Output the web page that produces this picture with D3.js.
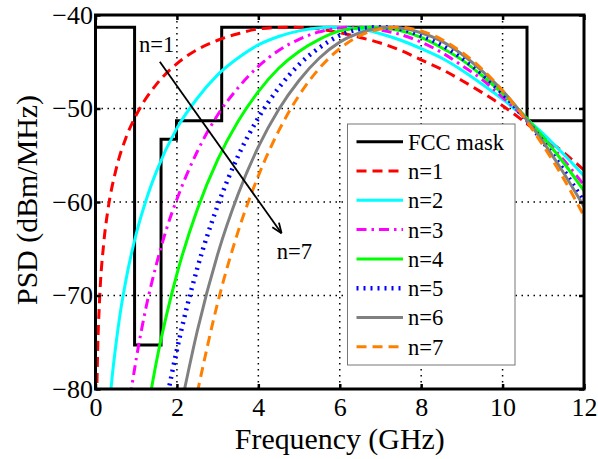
<!DOCTYPE html>
<html>
<head>
<meta charset="utf-8">
<script src="https://cdn.jsdelivr.net/npm/d3@7"></script>
<style>
  html, body { margin: 0; padding: 0; background: #fff; }
  svg { display: block; }
</style>
</head>
<body>
<svg id="chart" width="598" height="459"></svg>
<script>
// ---------------- data ----------------
const xTicks = [0, 2, 4, 6, 8, 10, 12];
const yTicks = [-80, -70, -60, -50, -40];
const xLabel = "Frequency (GHz)";
const yLabel = "PSD (dBm/MHz)";

// FCC indoor emission mask (step function)
const maskFreq = [0, 0.96, 0.96, 1.61, 1.61, 1.99, 1.99, 3.1, 3.1, 10.6, 10.6, 12];
const maskPsd  = [-41.3, -41.3, -75.3, -75.3, -53.3, -53.3, -51.3, -51.3, -41.3, -41.3, -51.3, -51.3];

const freqN1 = [0.02, 0.03, 0.05, 0.1, 0.2, 0.3, 0.5, 0.75, 1, 1.5, 2, 2.5, 3, 3.5, 4, 4.75, 5.5, 6, 6.5, 7, 7.5, 8, 8.5, 9, 9.5, 10, 10.5, 11, 11.5, 12];
const psdN1  = [-84.5, -81, -76.5, -70.5, -64.5, -61.0, -56.6, -53.1, -50.7, -47.4, -45.2, -43.7, -42.7, -42.0, -41.5, -41.3, -41.5, -41.9, -42.4, -43.0, -43.8, -44.8, -45.8, -47.0, -48.3, -49.7, -51.3, -53.0, -54.7, -56.6];

const freqN2 = [0.35, 0.4, 0.5, 0.6, 0.75, 1, 1.25, 1.5, 2, 2.5, 3, 3.5, 4, 4.5, 5, 5.8, 6.5, 7, 7.5, 8, 8.5, 9, 9.5, 10, 10.5, 11, 11.5, 12];
const psdN2  = [-81.4, -79.1, -75.3, -72.1, -68.3, -63.4, -59.7, -56.7, -52.1, -48.9, -46.4, -44.6, -43.2, -42.3, -41.7, -41.3, -41.5, -42.0, -42.7, -43.6, -44.6, -45.9, -47.4, -49.0, -50.8, -52.7, -54.9, -57.2];

const freqN3 = [0.85, 1, 1.25, 1.5, 1.75, 2, 2.5, 3, 3.5, 4, 4.5, 5, 5.5, 6.35, 7, 7.5, 8, 8.5, 9, 9.5, 10, 10.5, 11, 11.5, 12];
const psdN3  = [-80.9, -76.8, -71.1, -66.6, -62.8, -59.7, -54.6, -50.7, -47.8, -45.5, -43.8, -42.6, -41.8, -41.3, -41.6, -42.1, -42.9, -44.0, -45.4, -46.9, -48.8, -50.8, -53.1, -55.5, -58.2];

const freqN4 = [1.3, 1.5, 1.75, 2, 2.5, 3, 3.5, 4, 4.5, 5, 5.5, 6, 6.75, 7.5, 8, 8.5, 9, 9.5, 10, 10.5, 11, 11.5, 12];
const psdN4  = [-81.8, -77.0, -72.0, -67.7, -60.8, -55.5, -51.4, -48.2, -45.7, -43.9, -42.6, -41.7, -41.3, -41.7, -42.4, -43.5, -44.8, -46.5, -48.4, -50.6, -53.1, -55.8, -58.8];

const freqN5 = [1.75, 2, 2.5, 3, 3.5, 4, 4.5, 5, 5.5, 6, 6.5, 7, 7.5, 8, 8.5, 9, 9.5, 10, 10.5, 11, 11.5, 12];
const psdN5  = [-81.1, -75.8, -67.1, -60.4, -55.1, -51.0, -47.8, -45.3, -43.5, -42.2, -41.5, -41.3, -41.5, -42.2, -43.2, -44.6, -46.3, -48.4, -50.8, -53.6, -56.6, -60.0];

const freqN6 = [2.15, 2.5, 3, 3.5, 4, 4.5, 5, 5.5, 6, 6.5, 7.24, 8, 8.5, 9, 9.5, 10, 10.5, 11, 11.5, 12];
const psdN6  = [-80.8, -73.8, -65.6, -59.2, -54.1, -50.1, -47.0, -44.6, -42.9, -41.9, -41.3, -41.9, -42.8, -44.2, -46.0, -48.1, -50.7, -53.6, -56.9, -60.5];

const freqN7 = [2.5, 3, 3.5, 4, 4.5, 5, 5.5, 6, 6.5, 7, 7.4, 8, 8.5, 9, 9.5, 10, 10.5, 11, 11.5, 12];
const psdN7  = [-80.4, -70.8, -63.2, -57.2, -52.4, -48.6, -45.7, -43.6, -42.2, -41.5, -41.3, -41.7, -42.6, -44.0, -45.8, -48.1, -50.8, -54.0, -57.5, -61.5];

const seriesNames = ["FCC mask", "n=1", "n=2", "n=3", "n=4", "n=5", "n=6", "n=7"];

// annotation (data units)
const arrowFrom = [1.58, -45.0];
const arrowTo   = [4.57, -63.35];
const labelN1Pos = [1.07, -44.0];
const labelN7Pos = [4.45, -66.1];

// ---------------- styles ----------------
const styles = [
  { color: "#000000", width: 3,   dash: null },
  { color: "#ff0000", width: 3,   dash: "10,6" },
  { color: "#00ffff", width: 3,   dash: null },
  { color: "#ff00ff", width: 3,   dash: "10,5,2.5,5" },
  { color: "#00ff00", width: 3,   dash: null },
  { color: "#0000ff", width: 4.5, dash: "2,5" },
  { color: "#808080", width: 3,   dash: null },
  { color: "#ff8000", width: 3,   dash: "10,6" }
];

const seriesData = [
  [maskFreq, maskPsd],
  [freqN1, psdN1], [freqN2, psdN2], [freqN3, psdN3], [freqN4, psdN4],
  [freqN5, psdN5], [freqN6, psdN6], [freqN7, psdN7]
].map(([f, p]) => f.map((x, i) => ({ x, y: p[i] })));

const svg = d3.select("#chart");

// ---- pick an installed serif-like font (Times look) ----
function pickFont() {
  const candidates = ["Liberation Serif", "Tinos", "Times New Roman", "Times", "Nimbus Roman",
                      "Nimbus Roman No9 L", "FreeSerif", "Noto Serif", "DejaVu Serif", "Liberation Sans"];
  const probe = svg.append("text").attr("x", -1000).attr("y", -1000)
    .style("font-size", "40px").text("mmmmwwwiiilQ12");
  const widthWith = fam => { probe.style("font-family", fam); return probe.node().getComputedTextLength(); };
  const baseMono = widthWith("monospace");
  const baseSans = widthWith("sans-serif");
  let found = null;
  for (const c of candidates) {
    const w1 = widthWith(`"${c}", monospace`);
    const w2 = widthWith(`"${c}", sans-serif`);
    if (Math.abs(w1 - baseMono) > 0.5 || Math.abs(w2 - baseSans) > 0.5) { found = c; break; }
  }
  probe.remove();
  return found ? `"${found}", serif` : "serif";
}
const FONT = pickFont();

// fit a text element's font size so its width matches a target width
function fitWidth(sel, target, base) {
  sel.style("font-family", FONT).style("font-size", base + "px");
  const w = sel.node().getComputedTextLength();
  if (w > 0) sel.style("font-size", (base * target / w).toFixed(2) + "px");
  return sel;
}

// ---------------- chart ----------------
const L = 95.5, R = 584, T = 15, B = 389;
const x = d3.scaleLinear().domain([0, 12]).range([L, R]);
const y = d3.scaleLinear().domain([-80, -40]).range([B, T]);

svg.append("defs").append("clipPath").attr("id", "plotclip")
  .append("rect").attr("x", L).attr("y", T).attr("width", R - L).attr("height", B - T);

// grid
const grid = svg.append("g");
grid.selectAll("line.gx").data(xTicks.slice(1, -1)).join("line")
  .attr("x1", d => x(d)).attr("x2", d => x(d)).attr("y1", T).attr("y2", B)
  .attr("stroke", "#000").attr("stroke-width", 1.5).attr("stroke-dasharray", "1.5,4.5");
grid.selectAll("line.gy").data(yTicks.slice(1, -1)).join("line")
  .attr("y1", d => y(d)).attr("y2", d => y(d)).attr("x1", L).attr("x2", R)
  .attr("stroke", "#000").attr("stroke-width", 1.5).attr("stroke-dasharray", "1.5,4.5");

// lines
const plot = svg.append("g").attr("clip-path", "url(#plotclip)");
const lineSmooth = d3.line().x(d => x(d.x)).y(d => y(d.y)).curve(d3.curveMonotoneX);
const lineStep = d3.line().x(d => x(d.x)).y(d => y(d.y));
seriesData.forEach((data, i) => {
  const st = styles[i];
  plot.append("path")
    .attr("d", i === 0 ? lineStep(data) : lineSmooth(data))
    .attr("fill", "none")
    .attr("stroke", st.color)
    .attr("stroke-width", st.width)
    .attr("stroke-dasharray", st.dash)
    .attr("stroke-linejoin", "miter");
});

// legend
const lg = svg.append("g");
lg.append("rect").attr("x", 347.5).attr("y", 124).attr("width", 167.5).attr("height", 241)
  .attr("fill", "#fff").attr("stroke", "#777").attr("stroke-width", 1);
const fccText = lg.append("text").text("FCC mask");
fitWidth(fccText, 96, 23);
const legendFont = fccText.style("font-size");
seriesNames.forEach((name, i) => {
  const cy = 141.7 + i * 29.3;
  const st = styles[i];
  lg.append("line").attr("x1", 356.5).attr("x2", 403).attr("y1", cy).attr("y2", cy)
    .attr("stroke", st.color).attr("stroke-width", st.width).attr("stroke-dasharray", st.dash);
  const t = i === 0 ? fccText : lg.append("text").text(name);
  t.attr("x", 408).attr("y", cy).attr("dy", "0.35em")
    .style("font-family", FONT).style("font-size", legendFont);
});

// annotation arrow
const ax1 = x(arrowFrom[0]), ay1 = y(arrowFrom[1]);
const ax2 = x(arrowTo[0]), ay2 = y(arrowTo[1]);
svg.append("line").attr("x1", ax1).attr("y1", ay1).attr("x2", ax2).attr("y2", ay2)
  .attr("stroke", "#000").attr("stroke-width", 1.8);
const ang = Math.atan2(ay2 - ay1, ax2 - ax1);
[-0.38, 0.38].forEach(da => {
  const a = ang + Math.PI + da;
  svg.append("line").attr("x1", ax2).attr("y1", ay2)
    .attr("x2", ax2 + 11 * Math.cos(a)).attr("y2", ay2 + 11 * Math.sin(a))
    .attr("stroke", "#000").attr("stroke-width", 1.8);
});
svg.append("text").attr("x", x(labelN1Pos[0])).attr("y", y(labelN1Pos[1]))
  .style("font-family", FONT).style("font-size", legendFont).text("n=1");
svg.append("text").attr("x", x(labelN7Pos[0])).attr("y", y(labelN7Pos[1]))
  .style("font-family", FONT).style("font-size", legendFont).text("n=7");

// axes box
svg.append("rect").attr("x", L).attr("y", T).attr("width", R - L).attr("height", B - T)
  .attr("fill", "none").attr("stroke", "#000").attr("stroke-width", 3);

// tick font: fit "10" to ~26px
const probe = svg.append("text").text("10");
fitWidth(probe, 26, 26);
const tickFont = probe.style("font-size");
probe.remove();

const fmt = d3.format("d");
const gx = svg.append("g").attr("transform", `translate(0,${B})`)
  .call(d3.axisBottom(x).tickValues(xTicks).tickFormat(fmt).tickSizeInner(-5).tickSizeOuter(0).tickPadding(9));
const gxTop = svg.append("g").attr("transform", `translate(0,${T})`)
  .call(d3.axisTop(x).tickValues(xTicks).tickFormat("").tickSizeInner(-5).tickSizeOuter(0));
const gy = svg.append("g").attr("transform", `translate(${L},0)`)
  .call(d3.axisLeft(y).tickValues(yTicks).tickFormat(fmt).tickSizeInner(-5).tickSizeOuter(0).tickPadding(2.5));
const gyR = svg.append("g").attr("transform", `translate(${R},0)`)
  .call(d3.axisRight(y).tickValues(yTicks).tickFormat("").tickSizeInner(-5).tickSizeOuter(0));
[gx, gxTop, gy, gyR].forEach(g => {
  g.select(".domain").remove();
  g.selectAll(".tick line").attr("stroke", "#000").attr("stroke-width", 2.5);
  g.selectAll(".tick text").attr("fill", "#000")
    .style("font-family", FONT).style("font-size", tickFont);
});

// axis labels
const xl = svg.append("text").attr("x", x(6)).attr("y", 449).attr("text-anchor", "middle").text(xLabel);
fitWidth(xl, 210, 30);
const yl = svg.append("text").attr("transform", `translate(37,200) rotate(-90)`).attr("text-anchor", "middle").text(yLabel);
fitWidth(yl, 210, 30);
</script>
</body>
</html>
